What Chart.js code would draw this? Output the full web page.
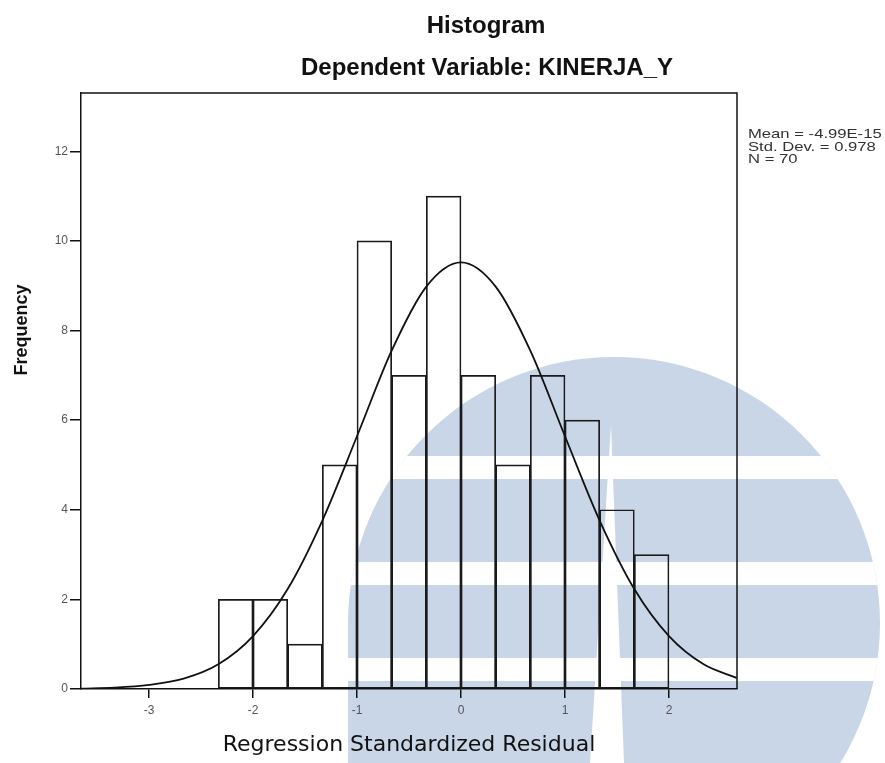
<!DOCTYPE html>
<html>
<head>
<meta charset="utf-8">
<script src="https://cdn.jsdelivr.net/npm/chart.js@4.4.1/dist/chart.umd.min.js"></script>
<style>
  body { margin: 0; background: #fff; }
  canvas { display: block; }
</style>
</head>
<body>
<canvas id="histogram-chart" width="885" height="763"></canvas>
<script>
// bins of the standardized residual histogram (width 1/3)
const binEdges = [-2.3333, -2, -1.6667, -1.3333, -1, -0.6667, -0.3333, 0, 0.3333, 0.6667, 1, 1.3333, 1.6667, 2];
const counts = [2, 2, 1, 5, 10, 7, 11, 7, 5, 7, 6, 4, 3];

// normal curve
const curveX = [-3.65, -3.3333, -3, -2.6667, -2.3333, -2, -1.6667, -1.3333, -1, -0.6667, -0.3333, 0, 0.3333, 0.6667, 1, 1.3333, 1.6667, 2, 2.3333, 2.65];
const curveY = [0.01, 0.03, 0.09, 0.23, 0.55, 1.18, 2.23, 3.76, 5.64, 7.55, 8.98, 9.52, 8.98, 7.55, 5.64, 3.76, 2.23, 1.18, 0.55, 0.25];

const xTicks = [-3, -2, -1, 0, 1, 2];
const yTicks = [0, 2, 4, 6, 8, 10, 12];
const statLines = ["Mean = -4.99E-15", "Std. Dev. = 0.978", "N = 70"];

const bars = counts.map((c, i) => ({ x: (binEdges[i] + binEdges[i + 1]) / 2, y: c }));
const curve = curveX.map((x, i) => ({ x: x, y: curveY[i] }));

// light blue logo watermark behind the chart
const watermark = {
    id: 'watermark',
    beforeDraw(chart) {
        const ctx = chart.ctx;
        ctx.save();
        ctx.fillStyle = '#fff';
        ctx.fillRect(0, 0, chart.width, chart.height);
        ctx.beginPath();
        ctx.arc(614, 623, 266, 0, Math.PI * 2);
        ctx.rect(348, 623, 266, 140);
        ctx.clip();
        ctx.fillStyle = '#c9d6e8';
        ctx.fillRect(0, 0, chart.width, chart.height);
        ctx.fillStyle = '#fff';
        ctx.fillRect(0, 456, chart.width, 23);
        ctx.fillRect(0, 562, chart.width, 23);
        ctx.fillRect(0, 658, chart.width, 23);
        ctx.beginPath();
        ctx.moveTo(611, 425);
        ctx.lineTo(624, 763);
        ctx.lineTo(590, 763);
        ctx.closePath();
        ctx.fill();
        ctx.restore();
    }
};

// titles, box top/right, y title and the stats text
const decorations = {
    id: 'decorations',
    afterDatasetsDraw(chart) {
        const ctx = chart.ctx;
        const a = chart.chartArea;
        ctx.save();
        ctx.strokeStyle = '#111';
        ctx.lineWidth = 1.5;
        ctx.beginPath();
        ctx.moveTo(a.left, a.top);
        ctx.lineTo(a.right, a.top);
        ctx.lineTo(a.right, a.bottom);
        ctx.stroke();
        ctx.restore();
    },
    afterDraw(chart) {
        const ctx = chart.ctx;
        ctx.save();
        ctx.fillStyle = '#111';
        ctx.textAlign = 'center';
        ctx.textBaseline = 'alphabetic';
        ctx.font = 'bold 24px "Liberation Sans", Arial, sans-serif';
        ctx.fillText('Histogram', 486, 33);
        ctx.fillText('Dependent Variable: KINERJA_Y', 487, 75);

        ctx.save();
        ctx.translate(22, 330);
        ctx.rotate(-Math.PI / 2);
        ctx.textBaseline = 'middle';
        ctx.font = 'bold 18px "Liberation Sans", Arial, sans-serif';
        ctx.fillText('Frequency', 0, 0);
        ctx.restore();

        ctx.fillStyle = '#333';
        ctx.textAlign = 'left';
        ctx.font = '13px "Liberation Sans", Arial, sans-serif';
        statLines.forEach((t, i) => {
            ctx.save();
            ctx.translate(748, 138 + i * 12.5);
            ctx.scale(1.28, 1);
            ctx.fillText(t, 0, 0);
            ctx.restore();
        });
        ctx.restore();
    }
};

new Chart(document.getElementById("histogram-chart"), {
    type: 'bar',
    data: {
        datasets: [{
            type: 'line',
            data: curve,
            borderColor: '#111',
            borderWidth: 1.8,
            pointRadius: 0,
            cubicInterpolationMode: 'monotone',
            fill: false,
            order: 0
        }, {
            type: 'bar',
            data: bars,
            backgroundColor: 'rgba(0,0,0,0)',
            borderColor: '#1a1a1a',
            borderWidth: 1,
            borderSkipped: false,
            barPercentage: 1,
            categoryPercentage: 1,
            order: 1
        }]
    },
    options: {
        responsive: false,
        animation: false,
        layout: {
            padding: { top: 93, right: 148, bottom: 0, left: 0 }
        },
        plugins: {
            legend: { display: false },
            tooltip: { enabled: false }
        },
        scales: {
            x: {
                type: 'linear',
                min: -3.654,
                max: 2.654,
                offset: false,
                afterBuildTicks: s => { s.ticks = xTicks.map(v => ({ value: v })); },
                afterFit: s => { s.height = 74; },
                grid: { display: true, drawOnChartArea: false, offset: false, tickLength: 9, color: '#111', lineWidth: 1.5 },
                border: { display: true, color: '#111', width: 1.5 },
                ticks: { padding: 5, color: '#555', font: { family: 'Liberation Sans', size: 12 }, maxRotation: 0 },
                title: {
                    display: true,
                    text: 'Regression Standardized Residual',
                    color: '#111',
                    font: { family: 'DejaVu Sans', size: 22 },
                    padding: { top: 0, bottom: 5 }
                }
            },
            y: {
                min: 0,
                max: 13.3,
                afterBuildTicks: s => { s.ticks = yTicks.map(v => ({ value: v })); },
                afterFit: s => { s.width = 81; },
                grid: { display: true, drawOnChartArea: false, tickLength: 11, color: '#111', lineWidth: 1.5 },
                border: { display: true, color: '#111', width: 1.5 },
                ticks: { padding: 2, color: '#555', font: { family: 'Liberation Sans', size: 12 } }
            }
        }
    },
    plugins: [watermark, decorations]
});
</script>
</body>
</html>
